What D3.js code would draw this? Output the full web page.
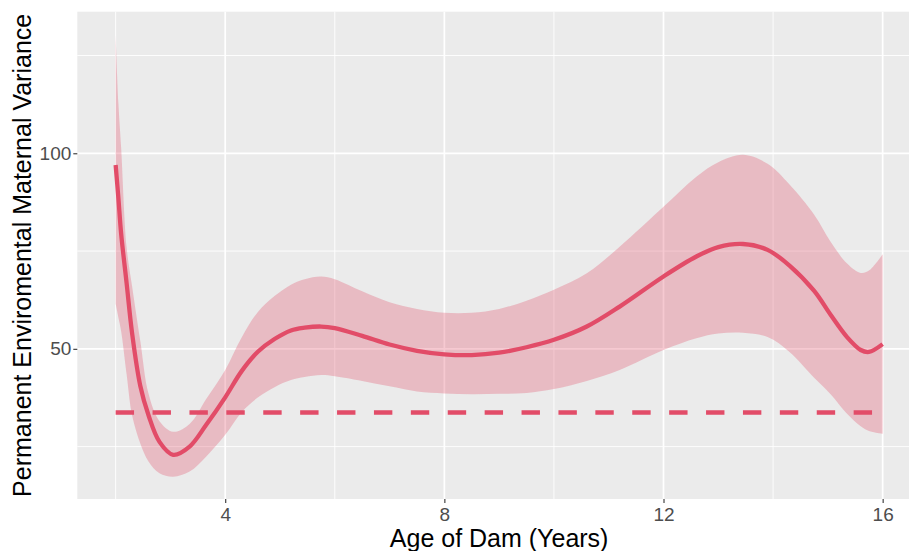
<!DOCTYPE html>
<html>
<head>
<meta charset="utf-8">
<script src="https://cdn.jsdelivr.net/npm/d3@7"></script>
<style>
  body { margin: 0; background: #fff; }
  text { font-family: Arial, "Liberation Sans", sans-serif; }
</style>
</head>
<body>
<div id="chart"></div>
<script>
// values
const age   = [2.0, 2.05, 2.1, 2.2, 2.3, 2.45, 2.6, 2.8, 3.05, 3.35, 3.65, 4.0, 4.3, 4.6, 4.9, 5.2, 5.45, 5.75, 6.0, 6.5, 7.0, 7.5, 8.0, 8.5, 9.0, 9.5, 10.0, 10.6, 11.2, 12.0, 12.6, 13.0, 13.45, 13.9, 14.3, 14.75, 15.05, 15.35, 15.6, 15.75, 16.0];
const fit   = [97.0, 88.5, 79.5, 66.8, 54.0, 40.5, 33.0, 26.2, 22.9, 25.0, 30.5, 37.6, 44.3, 49.3, 52.5, 54.7, 55.4, 55.7, 55.3, 53.3, 51.1, 49.5, 48.6, 48.4, 49.0, 50.4, 52.3, 55.7, 60.8, 68.5, 73.6, 76.0, 76.8, 75.3, 71.3, 64.8, 58.7, 53.0, 49.7, 49.2, 51.2];
const upper = [130.2, 112.8, 101.5, 76.0, 66.0, 52.0, 38.5, 31.5, 28.8, 30.8, 37.1, 44.6, 52.9, 59.5, 63.5, 66.4, 67.8, 68.5, 67.8, 64.7, 61.9, 60.2, 59.2, 59.2, 60.2, 62.3, 65.1, 69.3, 76.1, 86.3, 94.0, 97.7, 99.6, 97.3, 92.0, 84.3, 77.4, 71.8, 69.4, 70.0, 74.2];
const lower = [61.5, 58.0, 54.5, 43.5, 33.0, 25.8, 21.2, 18.2, 17.3, 18.6, 22.4, 28.0, 33.8, 37.6, 40.2, 42.0, 42.8, 43.3, 43.0, 41.8, 40.4, 39.1, 38.6, 38.4, 38.5, 38.7, 39.7, 41.8, 44.6, 49.7, 52.7, 53.9, 54.1, 53.0, 49.2, 42.6, 38.4, 33.4, 30.2, 29.0, 28.3];

const refAge = [2, 16];
const refLevel = 33.7;

const xMajor = [4, 8, 12, 16];
const xMinor = [2, 6, 10, 14];
const yMajor = [50, 100];
const yMinor = [25, 75, 125];

const rows = age.map((a, i) => ({age: a, fit: fit[i], lo: lower[i], hi: upper[i]}));

const width = 909, height = 551;
const panel = {left: 77.3, top: 11.7, right: 921, bottom: 499};
const red = "#E24C68";

const svg = d3.select("#chart")
    .append("svg")
        .attr("width", width)
        .attr("height", height);

const x = d3.scaleLinear()
    .domain([1.3, 16.7])
    .range([panel.left, panel.right]);

const y = d3.scaleLinear()
    .domain([11.6, 136.2])
    .range([panel.bottom, panel.top]);

// grey panel
svg.append("rect")
    .attr("x", panel.left)
    .attr("y", panel.top)
    .attr("width", panel.right - panel.left)
    .attr("height", panel.bottom - panel.top)
    .attr("fill", "#EBEBEB");

// grid, minor then major
const grid = svg.append("g").attr("stroke", "#fff");
grid.selectAll(".vminor").data(xMinor).enter().append("line")
    .attr("x1", d => x(d)).attr("x2", d => x(d))
    .attr("y1", panel.top).attr("y2", panel.bottom)
    .attr("stroke-width", 0.9);
grid.selectAll(".hminor").data(yMinor).enter().append("line")
    .attr("y1", d => y(d)).attr("y2", d => y(d))
    .attr("x1", panel.left).attr("x2", panel.right)
    .attr("stroke-width", 0.9);
grid.selectAll(".vmajor").data(xMajor).enter().append("line")
    .attr("x1", d => x(d)).attr("x2", d => x(d))
    .attr("y1", panel.top).attr("y2", panel.bottom)
    .attr("stroke-width", 1.7);
grid.selectAll(".hmajor").data(yMajor).enter().append("line")
    .attr("y1", d => y(d)).attr("y2", d => y(d))
    .attr("x1", panel.left).attr("x2", panel.right)
    .attr("stroke-width", 1.7);

// confidence ribbon
const ribbon = d3.area()
    .x(d => x(d.age))
    .y0(d => y(d.lo))
    .y1(d => y(d.hi))
    .curve(d3.curveCatmullRom.alpha(0.5));

svg.append("path")
    .datum(rows)
    .attr("d", ribbon)
    .attr("fill", red)
    .attr("fill-opacity", 0.3);

// dashed reference level
svg.append("line")
    .attr("x1", x(refAge[0]))
    .attr("x2", x(refAge[1]))
    .attr("y1", y(refLevel))
    .attr("y2", y(refLevel))
    .attr("stroke", red)
    .attr("stroke-width", 4.4)
    .attr("stroke-dasharray", "18.4,18.5");

// fitted curve
const line = d3.line()
    .x(d => x(d.age))
    .y(d => y(d.fit))
    .curve(d3.curveCatmullRom.alpha(0.5));

svg.append("path")
    .datum(rows)
    .attr("d", line)
    .attr("fill", "none")
    .attr("stroke", red)
    .attr("stroke-width", 4.3)
    .attr("stroke-linejoin", "round");

// axes
const xAxis = svg.append("g")
    .attr("transform", `translate(0, ${panel.bottom})`)
    .call(d3.axisBottom(x).tickValues(xMajor).tickSize(4).tickPadding(5));
const yAxis = svg.append("g")
    .attr("transform", `translate(${panel.left}, 0)`)
    .call(d3.axisLeft(y).tickValues(yMajor).tickSize(4).tickPadding(2));

[xAxis, yAxis].forEach(g => {
    g.select(".domain").remove();
    g.selectAll(".tick line").attr("stroke", "#333").attr("stroke-width", 1.1);
    g.selectAll(".tick text")
        .attr("fill", "#4D4D4D")
        .attr("font-size", "19px")
        .attr("font-family", "Arial, 'Liberation Sans', sans-serif");
});

// titles
svg.append("text")
    .attr("x", (panel.left + panel.right) / 2)
    .attr("y", 547)
    .attr("text-anchor", "middle")
    .attr("font-size", "25px")
    .text("Age of Dam (Years)");

svg.append("text")
    .attr("transform", "rotate(-90)")
    .attr("x", -(panel.top + panel.bottom) / 2)
    .attr("y", 31)
    .attr("text-anchor", "middle")
    .attr("font-size", "25px")
    .text("Permanent Enviromental Maternal Variance");
</script>
</body>
</html>
